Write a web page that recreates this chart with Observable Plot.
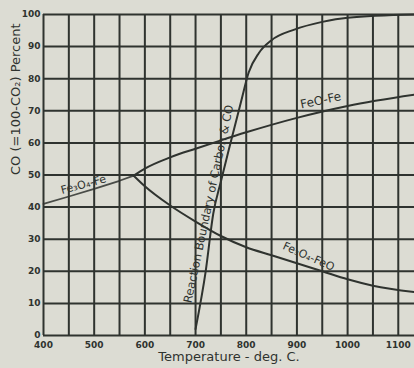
<!DOCTYPE html>
<html>
<head>
<meta charset="utf-8">
<script src="https://cdn.jsdelivr.net/npm/d3@7"></script>
<script src="https://cdn.jsdelivr.net/npm/@observablehq/plot@0.6"></script>
<style>
  html, body { margin: 0; padding: 0; background: #dcdcd3; }
  #chart { width: 414px; height: 368px; }
</style>
</head>
<body>
<div id="chart"></div>
<script>
// Tick / grid values
const xGridTicks = [400, 450, 500, 550, 600, 650, 700, 750, 800, 850, 900, 950, 1000, 1050, 1100, 1150];
const xLabelTicks = [400, 500, 600, 700, 800, 900, 1000, 1100];
const yTicks = [0, 10, 20, 30, 40, 50, 60, 70, 80, 90, 100];

// Fe3O4 - Fe equilibrium
const fe3o4FeT  = [400, 450, 500, 550, 578];
const fe3o4FeCO = [41, 43.3, 45.7, 48.2, 49.8];

// FeO - Fe equilibrium
const feoFeT  = [578, 600, 650, 700, 750, 800, 900, 1000, 1132];
const feoFeCO = [49.8, 52, 55.5, 58.2, 60.8, 63.3, 67.8, 71.5, 75];

// Fe3O4 - FeO equilibrium
const fe3o4FeoT  = [578, 600, 650, 700, 750, 800, 850, 900, 950, 1000, 1050, 1132];
const fe3o4FeoCO = [49.8, 46.5, 40.5, 35.5, 31, 27.5, 25, 22.5, 20, 17.5, 15.5, 13.5];

// Carbon / CO equilibrium
const carbonT  = [700, 720, 735, 750, 769, 790, 805, 825, 850, 895, 950, 1000, 1132];
const carbonCO = [2, 20, 38, 48, 60, 73, 82, 88, 92, 95.3, 97.7, 99, 100];

const labels = ["Fe₃O₄-Fe", "FeO-Fe", "Fe₃O₄-FeO", "Reaction Boundary of Carbon & CO"];
const labelT = [479, 947, 923, 726];
const labelCO = [47, 73.2, 24.6, 41];
const labelRot = [-15, -12, 24, -78];
const labelSize = [11, 12, 11, 11.5];

const toRows = (xs, ys) => xs.map((x, i) => ({x, y: ys[i]}));
const lbl = labels.map((t, i) => ({t, x: labelT[i], y: labelCO[i], r: labelRot[i], s: labelSize[i]}));

const ink = "#2f332f";
const font = "'DejaVu Sans', sans-serif";

const chart = Plot.plot({
  width: 414,
  height: 368,
  marginLeft: 43,
  marginRight: 0,
  marginTop: 14,
  marginBottom: 33,
  style: {background: "#dcdcd3", fontFamily: font, color: ink, overflow: "visible"},
  x: {domain: [400, 1132]},
  y: {domain: [0, 100]},
  marks: [
    Plot.ruleX(xGridTicks.filter(d => d <= 1132), {stroke: ink, strokeWidth: 2}),
    Plot.ruleY(yTicks, {stroke: ink, strokeWidth: 2}),
    Plot.axisX(xLabelTicks, {tickSize: 0, tickPadding: 6, fontSize: 9, fontWeight: "bold", label: null, tickFormat: d => String(d)}),
    Plot.axisY(yTicks, {tickSize: 0, tickPadding: 3, fontSize: 9, fontWeight: "bold", label: null, tickFormat: d => String(d)}),
    Plot.line(toRows(fe3o4FeT, fe3o4FeCO), {x: "x", y: "y", stroke: ink, strokeWidth: 1.8, strokeOpacity: 0.85}),
    Plot.line(toRows(feoFeT, feoFeCO), {x: "x", y: "y", stroke: ink, strokeWidth: 2, curve: "monotone-x"}),
    Plot.line(toRows(fe3o4FeoT, fe3o4FeoCO), {x: "x", y: "y", stroke: ink, strokeWidth: 2, curve: "monotone-x"}),
    Plot.line(toRows(carbonT, carbonCO), {x: "x", y: "y", stroke: ink, strokeWidth: 2, curve: "monotone-x"}),
    Plot.text(lbl, {x: "x", y: "y", text: "t", rotate: "r", fontSize: "s", fill: ink}),
    Plot.text(["Temperature - deg. C."], {text: d => d, frameAnchor: "bottom", dy: 25, fontSize: 13, fill: ink}),
    Plot.text(["CO (=100-CO₂) Percent"], {text: d => d, frameAnchor: "left", dx: -28, rotate: -90, fontSize: 13, fill: ink})
  ]
});
document.getElementById("chart").appendChild(chart);
</script>
</body>
</html>
